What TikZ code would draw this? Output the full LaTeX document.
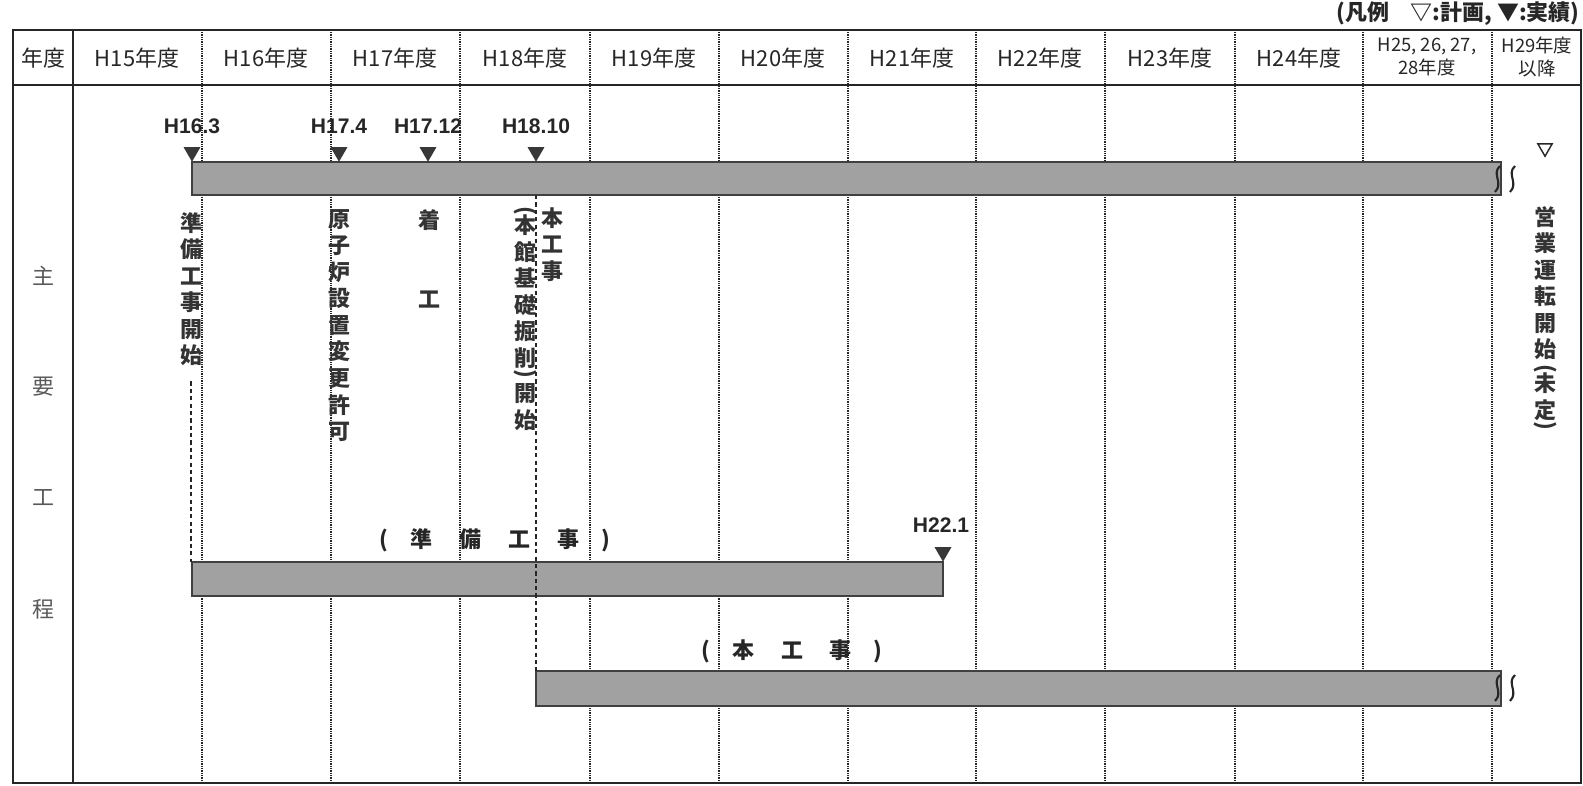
\documentclass[tikz,border=0pt]{standalone}
\usepackage{fontspec}
\setmainfont{Liberation Sans}
\newfontfamily\jp{Noto Sans CJK JP}
\usetikzlibrary{shapes.geometric}
\newcommand\vop{\rotatebox[origin=c]{-90}{(}}
\newcommand\vcl{\rotatebox[origin=c]{-90}{)}}

\begin{document}
\begin{tikzpicture}[x=0.02cm,y=-0.02cm,
  hdr/.style={font=\jp\fontsize{12.5}{15}\selectfont,text=black!85,align=center,inner sep=0pt},
  small hdr/.style={hdr,font=\jp\fontsize{10.5}{13}\selectfont},
  row/.style={font=\jp\fontsize{12.5}{15}\selectfont,text=black!65,inner sep=0pt},
  grid line/.style={line width=1pt,black!85,dash pattern=on 0.5pt off 0.5pt},
  frame/.style={line width=1.1pt,black!85},
  bar/.style={draw=black!75,line width=0.9pt,fill=black!37},
  brk/.style={line width=1.2pt,black!85},
  guide/.style={line width=0.7pt,black!85,dash pattern=on 2.4pt off 1.8pt},
  done/.style={regular polygon,regular polygon sides=3,shape border rotate=180,
    fill=black!78,inner sep=0pt,minimum size=0.39cm},
  plan/.style={done,fill=none,draw=black!85,line width=0.8pt,minimum size=0.33cm},
  date/.style={font=\bfseries\fontsize{12}{14}\selectfont,text=black!85,inner sep=0pt},
  vtext/.style={font=\jp\bfseries\fontsize{12.5}{15.1}\selectfont,text=black!80,
    align=center,inner sep=0pt,anchor=north},
  lab/.style={font=\jp\bfseries\fontsize{12.5}{15}\selectfont,text=black!85,inner sep=0pt}]

  \useasboundingbox (0,0) rectangle (1583,785);

  % table
  \foreach \x in {202,331,460,590,719,848,976,1105,1235,1363,1492}
    \draw[grid line] (\x,30) -- (\x,783);
  \draw[frame] (13,30) rectangle (1581,783);
  \draw[frame] (73,30) -- (73,783);
  \draw[frame,line width=1.6pt] (13,85) -- (1581,85);

  \node[hdr] (y0) at (43,58) {年度};
  \foreach \x/\t [count=\i] in {137/H15年度,266/H16年度,395/H17年度,525/H18年度,
      654/H19年度,783/H20年度,912/H21年度,1040/H22年度,1170/H23年度,1299/H24年度}
    \node[hdr] (y\i) at (\x,58) {\t};
  \node[small hdr] (y11) at (1427,57) {H25, 26, 27,\\28年度};
  \node[small hdr] (y12) at (1537,57) {H29年度\\以降};

  \node[lab,anchor=east] (legend) at (1580,14) {(凡例\quad ▽:計画, ▼:実績)};

  \foreach \t [count=\i] in {主,要,工,程}
    \node[row] (r\i) at (43,276+111*\i-111) {\t};

  % bars
  \draw[bar] (192,162) rectangle (1501,195);
  \draw[bar] (192,562) rectangle (943,596);
  \draw[bar] (536,671) rectangle (1501,706);
  \foreach \y in {162,671} {
    \draw[brk] (1500,\y+4) .. controls (1491,\y+12) and (1504,\y+21) .. (1495,\y+30);
    \draw[brk] (1515,\y+4) .. controls (1506,\y+12) and (1519,\y+21) .. (1510,\y+30);
  }

  % milestones
  \node[done] (m163) at (192,152) {};
  \node[done] (m174) at (339,152) {};
  \node[done] (m1712) at (428,152) {};
  \node[done] (m1810) at (536,152) {};
  \node[done] (m221) at (943,552) {};
  \node[plan] (mops) at (1545,148) {};

  \node[date] (d163) at (192,126) {H16.3};
  \node[date] (d174) at (339,126) {H17.4};
  \node[date] (d1712) at (428,126) {H17.12};
  \node[date] (d1810) at (536,126) {H18.10};
  \node[date] (d221) at (941,525) {H22.1};

  \node[vtext] (pre) at (191,212) {準\\備\\工\\事\\開\\始};
  \node[vtext] (perm) at (339,209) {原\\子\\炉\\設\\置\\変\\更\\許\\可};
  \node[vtext] (start) at (429,209) {着\\[30pt]工};
  \node[vtext] (main) at (552,207) {本\\工\\事};
  \node[vtext] (exc) at (525,206) {\vop\\[-6pt]本\\館\\基\\礎\\掘\\削\\[-7pt]\vcl\\[-3pt]開\\始};
  \node[vtext] (ops) at (1545,206) {営\\業\\運\\転\\開\\始\\[-5pt]\vop\\[-6pt]未\\定\\[-7pt]\vcl};

  \node[lab] (prep) at (495,540) {(\quad 準\quad\ 備\quad\ 工\quad\ 事\quad )};
  \node[lab] (work) at (792,651) {(\quad 本\quad\ 工\quad\ 事\quad )};

  \coordinate (pre end) at (191,562);
  \coordinate (exc top) at (536,195);
  \coordinate (exc end) at (536,671);
  \draw[guide] ([yshift=-0.3cm]pre.south) -- (pre end);
  \draw[guide] (exc top) -- (exc end);
\end{tikzpicture}
\end{document}
